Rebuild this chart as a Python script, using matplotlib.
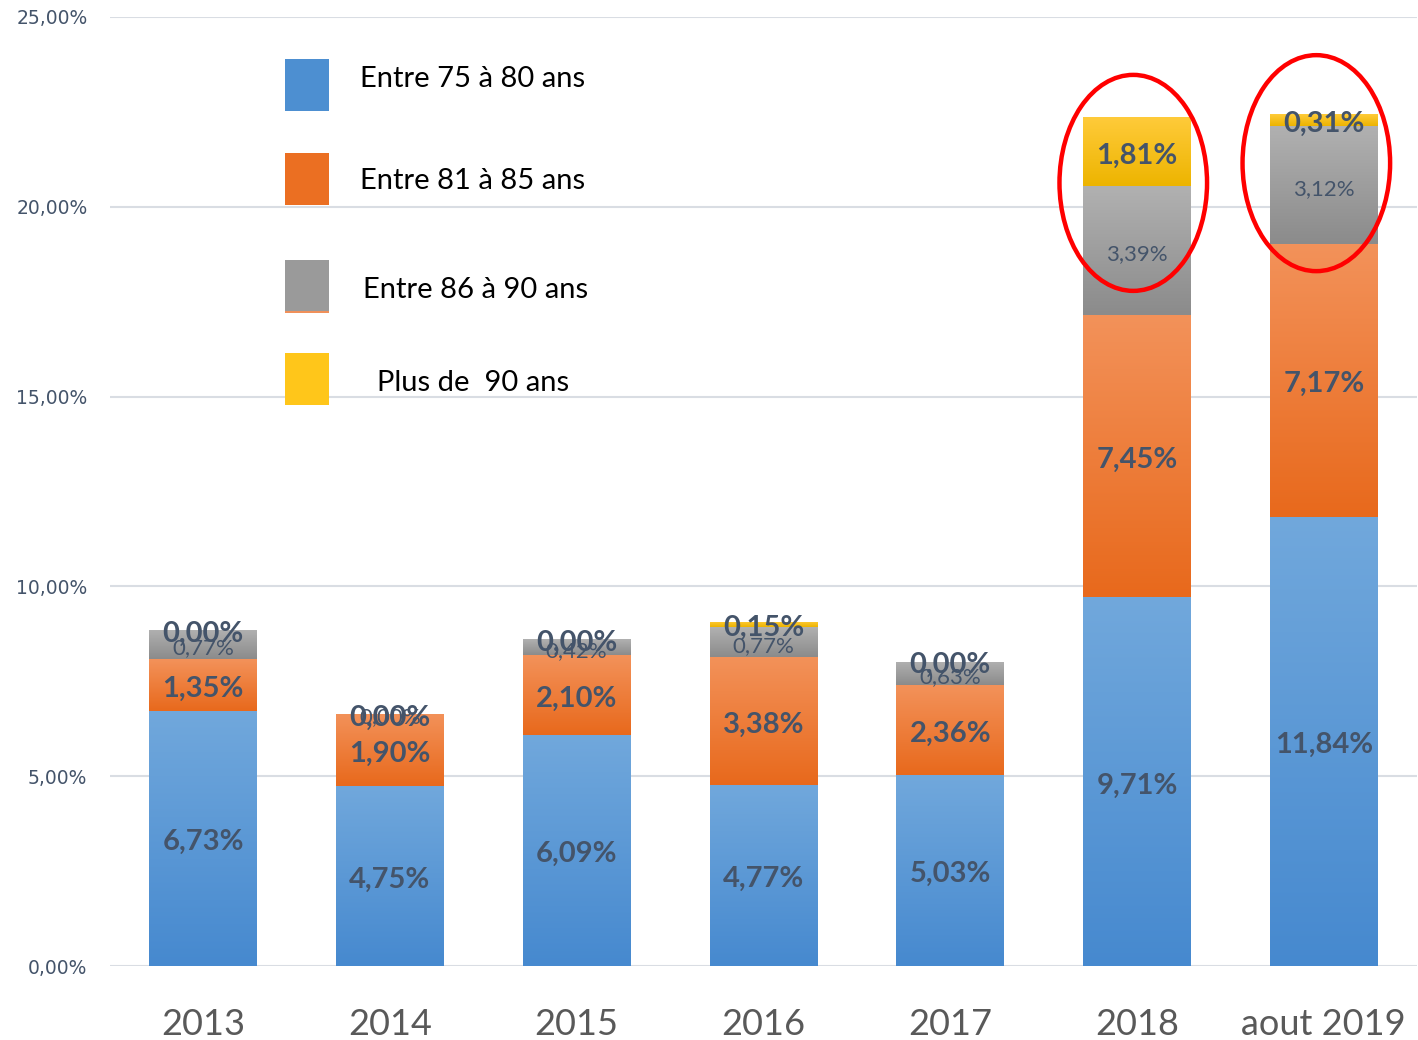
import matplotlib
matplotlib.use("Agg")
import matplotlib.pyplot as plt
import numpy as np
from matplotlib.patches import Ellipse, Rectangle
from matplotlib.colors import LinearSegmentedColormap

# data (percent)
years = ["2013", "2014", "2015", "2016", "2017", "2018", "aout 2019"]
age_75_80 = [6.73, 4.75, 6.09, 4.77, 5.03, 9.71, 11.84]
age_81_85 = [1.35, 1.90, 2.10, 3.38, 2.36, 7.45, 7.17]
age_86_90 = [0.77, 0.00, 0.42, 0.77, 0.63, 3.39, 3.12]
age_90_plus = [0.00, 0.00, 0.00, 0.15, 0.00, 1.81, 0.31]
legend_labels = ["Entre 75 à 80 ans", "Entre 81 à 85 ans", "Entre 86 à 90 ans", "Plus de  90 ans"]
yticks = [0, 5, 10, 15, 20, 25]

# (top colour, bottom colour) gradients like the excel fill
grads = [("#71A8DC", "#4689CF"), ("#F3925A", "#E8691C"),
         ("#B1B1B1", "#8B8B8B"), ("#FFCB3A", "#EDB400")]
flat = ["#4D8FD1", "#EB6F22", "#9A9A9A", "#FFC61A"]
label_col = "#44546A"


def fmt(v):
    return f"{v:.2f}".replace(".", ",") + "%"


fig = plt.figure(figsize=(14.18, 10.40), dpi=100)
ax = fig.add_axes([109.6 / 1418, 74 / 1040, 1307.6 / 1418, 949 / 1040])

x = np.arange(len(years))
width = 0.575
series = [age_75_80, age_81_85, age_86_90, age_90_plus]
bottom = np.zeros(len(years))
grad_img = np.linspace(1, 0, 256).reshape(-1, 1)
for vals, (ctop, cbot), fc in zip(series, grads, flat):
    bars = ax.bar(x, vals, width, bottom=bottom, color=fc, zorder=2, linewidth=0)
    cmap = LinearSegmentedColormap.from_list("g", [cbot, ctop])
    for b in bars:
        if b.get_height() <= 0:
            continue
        bx, by = b.get_x(), b.get_y()
        im = ax.imshow(grad_img, cmap=cmap, aspect="auto", zorder=3,
                       extent=[bx, bx + b.get_width(), by, by + b.get_height()],
                       vmin=0, vmax=1)
        im.set_clip_path(b)
    bottom = bottom + np.array(vals)

# data labels (small grey-series labels, bold for the others)
bottom = np.zeros(len(years))
for i, vals in enumerate(series):
    for j, v in enumerate(vals):
        yc = bottom[j] + v / 2 - 0.1
        if i == 2:
            ax.text(x[j], yc, fmt(v), ha="center", va="center", fontsize=16,
                    color=label_col, family="Lato", zorder=5)
        else:
            ax.text(x[j], yc, fmt(v), ha="center", va="center", fontsize=21,
                    fontweight="bold", color=label_col, family="Lato", zorder=6)
    bottom = bottom + np.array(vals)

ax.set_xlim(-0.5, len(years) - 0.5)
ax.set_ylim(0, 25)
ax.set_yticks(yticks)
ax.set_yticklabels([fmt(t) for t in yticks], fontsize=13.5, color=label_col,
                   family="DejaVu Sans")
ax.set_xticks(x)
ax.set_xticklabels(years, fontsize=26, color="#595959", family="Lato")
ax.tick_params(axis="y", length=0, pad=16)
ax.tick_params(axis="x", length=0, pad=30)
for s in ax.spines.values():
    s.set_visible(False)
ax.grid(axis="y", color="#D9DDE3", linewidth=1.5, zorder=0)
ax.set_axisbelow(True)

# red highlight ellipses
for xc, yc in [(4.98, 20.63), (5.96, 21.15)]:
    ax.add_patch(Ellipse((xc, yc), 0.79, 5.69, fill=False, edgecolor="red",
                         linewidth=3.2, zorder=7))

# custom legend
leg_y = [85, 179, 286, 379]
leg_ty = [79, 181, 290, 383]
leg_tx = [360, 360, 363, 377]
for yc, ty, tx, c, lab in zip(leg_y, leg_ty, leg_tx, flat, legend_labels):
    fig.patches.append(Rectangle((285 / 1418, 1 - (yc + 26) / 1040), 44 / 1418, 52 / 1040,
                                 transform=fig.transFigure, facecolor=c, edgecolor="none"))
    fig.text(tx / 1418, 1 - ty / 1040, lab, ha="left", va="center",
             fontsize=21, family="Lato", color="black")
# thin orange line under the grey swatch, as in the original
fig.patches.append(Rectangle((285 / 1418, 1 - 313 / 1040), 44 / 1418, 2 / 1040,
                             transform=fig.transFigure, facecolor="#F0905A",
                             edgecolor="none"))

fig.savefig("out.png", dpi=100, facecolor="white")
